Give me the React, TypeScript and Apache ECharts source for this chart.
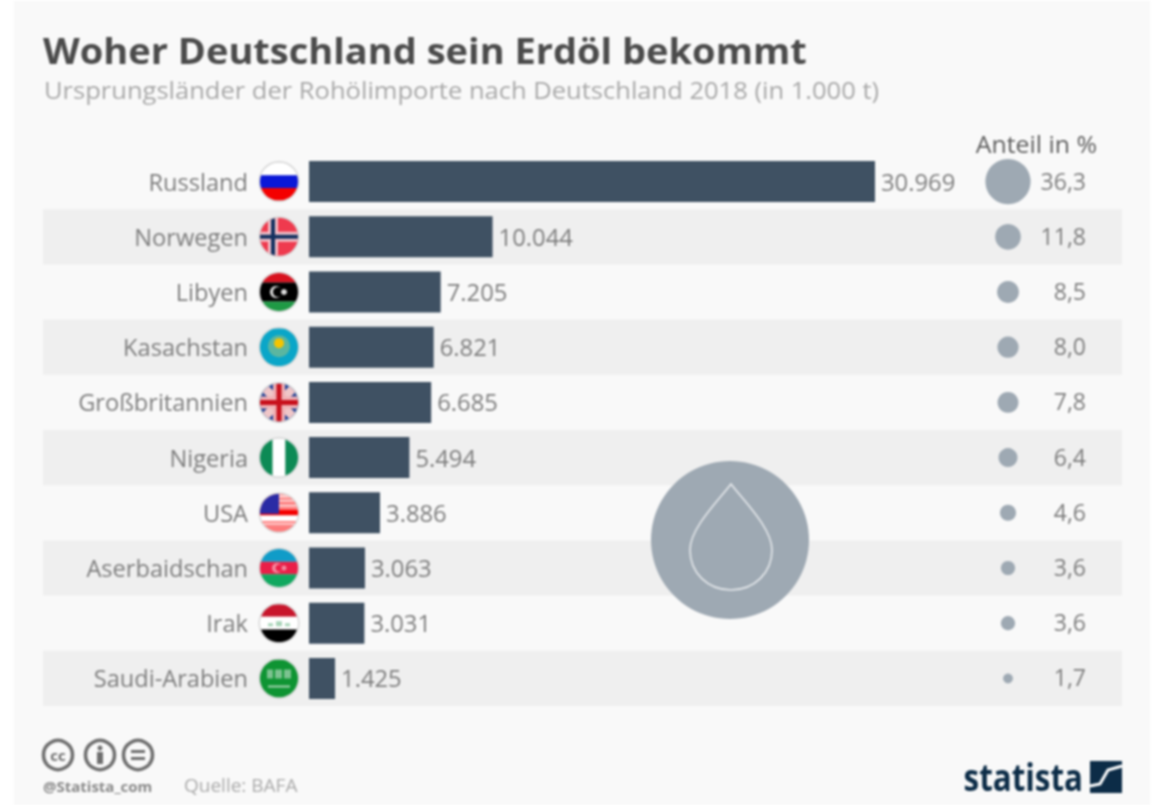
import React, { useEffect, useRef } from "react";
import * as echarts from "echarts";

const countries = ["Russland", "Norwegen", "Libyen", "Kasachstan", "Großbritannien", "Nigeria", "USA", "Aserbaidschan", "Irak", "Saudi-Arabien"];
const imports = [30969, 10044, 7205, 6821, 6685, 5494, 3886, 3063, 3031, 1425];
const importLabels = ["30.969", "10.044", "7.205", "6.821", "6.685", "5.494", "3.886", "3.063", "3.031", "1.425"];
const shares = [36.3, 11.8, 8.5, 8.0, 7.8, 6.4, 4.6, 3.6, 3.6, 1.7];
const shareLabels = ["36,3", "11,8", "8,5", "8,0", "7,8", "6,4", "4,6", "3,6", "3,6", "1,7"];

const FONT = "'Open Sans', 'Noto Sans', sans-serif";
const R = 19;

const rect = (x: number, y: number, w: number, h: number, fill: string) => ({ type: "rect", shape: { x, y, width: w, height: h }, style: { fill } });
const hBands = (cols: string[]) => cols.map((c, i) => rect(-R, -R + (i * 2 * R) / cols.length, 2 * R, (2 * R) / cols.length, c));
const vBands = (cols: string[]) => cols.map((c, i) => rect(-R + (i * 2 * R) / cols.length, -R, (2 * R) / cols.length, 2 * R, c));
const circle = (cx: number, cy: number, r: number, fill: string) => ({ type: "circle", shape: { cx, cy, r }, style: { fill } });
const poly = (points: number[][], fill: string) => ({ type: "polygon", shape: { points }, style: { fill } });

const flagParts: Record<string, any[]> = {
  Russland: hBands(["#ffffff", "#0a18d8", "#f40000"]),
  Norwegen: [
    rect(-R, -R, 2 * R, 2 * R, "#ef3a4e"),
    rect(-R, -5, 2 * R, 10, "#f2c0c8"),
    rect(-11, -R, 10, 2 * R, "#f2c0c8"),
    rect(-R, -2, 2 * R, 4, "#12305f"),
    rect(-8, -R, 4, 2 * R, "#12305f"),
  ],
  Libyen: [
    ...hBands(["#d8121f", "#000000", "#000000", "#1f9a45"]),
    circle(-3, 0, 6, "#dddddd"),
    circle(-1, 0, 5, "#000000"),
    circle(5, 0, 3, "#dddddd"),
  ],
  Kasachstan: [
    rect(-R, -R, 2 * R, 2 * R, "#0aa6c8"),
    circle(0, -1, 11, "#5bb6a0"),
    circle(0, -4, 5, "#f5c400"),
  ],
  "Großbritannien": [
    rect(-R, -R, 2 * R, 2 * R, "#1c3f94"),
    poly([[-R, -R + 6], [-R + 6, -R], [R, R - 6], [R - 6, R]], "#efc6c8"),
    poly([[R, -R + 6], [R - 6, -R], [-R, R - 6], [-R + 6, R]], "#efc6c8"),
    rect(-R, -6, 2 * R, 12, "#efb0b4"),
    rect(-6, -R, 12, 2 * R, "#efb0b4"),
    rect(-R, -2.5, 2 * R, 5, "#c8101c"),
    rect(-2.5, -R, 5, 2 * R, "#c8101c"),
  ],
  Nigeria: vBands(["#0d8a55", "#ffffff", "#0d8a55"]),
  USA: [
    ...Array.from({ length: 7 }, (_, i) => rect(-R, -R + (i * 2 * R) / 7, 2 * R, (2 * R) / 7, i === 4 ? "#ffffff" : i === 3 ? "#f40000" : "#ff7a7a")),
    rect(-R, -R + 1, 2 * R, 3, "#ffd0d0"),
    rect(-R, -R + 6, 2 * R, 2, "#ffd0d0"),
    rect(-R, -R + 11, 2 * R, 2, "#ffd0d0"),
    rect(-R, 10, 2 * R, 2, "#ffd0d0"),
    rect(-R, -R, 19, 20, "#2a2ba5"),
  ],
  Aserbaidschan: [
    ...hBands(["#109cc8", "#ea1f48", "#10a85f"]),
    circle(-2, 0, 5, "#f38aa0"),
    circle(0, 0, 3.5, "#ea1f48"),
    circle(5, 0, 2.5, "#f38aa0"),
  ],
  Irak: [
    ...hBands(["#c8162c", "#ffffff", "#000000"]),
    rect(-11, 0, 5, 3, "#a8d4b8"),
    rect(-3, -2, 6, 5, "#a8d4b8"),
    rect(6, 0, 5, 3, "#a8d4b8"),
  ],
  "Saudi-Arabien": [
    rect(-R, -R, 2 * R, 2 * R, "#0f9433"),
    rect(-12, -9, 6, 9, "#7cc290"),
    rect(-4, -9, 7, 9, "#7cc290"),
    rect(5, -9, 7, 9, "#7cc290"),
    rect(-11, 7, 22, 2, "#a3d4b0"),
  ],
};

echarts.graphic.registerShape(
  "oilDrop",
  echarts.graphic.extendPath("M41 0 C53 16 82 44 82 66 C82 89 64 106 41 106 C18 106 0 89 0 66 C0 44 29 16 41 0 Z", {}) as any
);

export default function App() {
  const ref = useRef<HTMLDivElement>(null);
  useEffect(() => {
    const chart = echarts.init(ref.current!, null, { renderer: "svg" });
    const textColor = "#7d7d7d";
    const icon = "#6e6e6e";
    chart.setOption({
      animation: false,
      backgroundColor: "#ffffff",
      graphic: [
        { type: "rect", z: -10, shape: { x: 14, y: 1, width: 1136, height: 804 }, style: { fill: "#f9f9f9" } },
        { type: "text", x: 43, y: 50, scaleX: 1.062, style: { text: "Woher Deutschland sein Erdöl bekommt", fill: "#4b4b4b", font: `bold 35.8px ${FONT}`, textVerticalAlign: "middle" } },
        { type: "text", x: 44, y: 90, scaleX: 1.064, style: { text: "Ursprungsländer der Rohölimporte nach Deutschland 2018 (in 1.000 t)", fill: "#a8a8a8", font: `24px ${FONT}`, textVerticalAlign: "middle" } },
        { type: "text", x: 1097, y: 144, scaleX: 1.08, style: { text: "Anteil in %", fill: "#5c5c5c", font: `23px ${FONT}`, textAlign: "right", textVerticalAlign: "middle" } },
        { type: "circle", z: 20, shape: { cx: 730, cy: 540, r: 79 }, style: { fill: "#9ea9b3" } },
        { type: "oilDrop", z: 21, x: 690, y: 484, style: { fill: "none", stroke: "#e6e9ec", lineWidth: 1.6 } },
        { type: "circle", shape: { cx: 58, cy: 755, r: 14.5 }, style: { fill: "none", stroke: icon, lineWidth: 3.5 } },
        { type: "text", x: 58, y: 755, style: { text: "cc", fill: icon, font: `bold 15px ${FONT}`, textAlign: "center", textVerticalAlign: "middle" } },
        { type: "circle", shape: { cx: 100, cy: 755, r: 14.5 }, style: { fill: "none", stroke: icon, lineWidth: 3.5 } },
        { type: "circle", shape: { cx: 100, cy: 748, r: 2.5 }, style: { fill: icon } },
        { type: "rect", shape: { x: 97, y: 752, width: 6, height: 12 }, style: { fill: icon } },
        { type: "circle", shape: { cx: 138, cy: 755, r: 14.5 }, style: { fill: "none", stroke: icon, lineWidth: 3.5 } },
        { type: "rect", shape: { x: 131, y: 750, width: 14, height: 3 }, style: { fill: icon } },
        { type: "rect", shape: { x: 131, y: 757, width: 14, height: 3 }, style: { fill: icon } },
        { type: "text", x: 43, y: 786, style: { text: "@Statista_com", fill: "#888888", font: `bold 15px ${FONT}`, textVerticalAlign: "middle" } },
        { type: "text", x: 184, y: 785, style: { text: "Quelle: BAFA", fill: "#aaaaaa", font: `19px ${FONT}`, textVerticalAlign: "middle" } },
        { type: "text", x: 1083, y: 776, scaleX: 0.825, style: { text: "statista", fill: "#0c2c47", font: `bold 38px ${FONT}`, textAlign: "right", textVerticalAlign: "middle" } },
        { type: "rect", shape: { x: 1090, y: 761, width: 32, height: 32 }, style: { fill: "#0c2c47" } },
        { type: "polyline", shape: { points: [[1090, 786], [1100, 784], [1108, 770], [1122, 766]] }, style: { fill: "none", stroke: "#ffffff", lineWidth: 3 } },
      ],
      grid: [
        { left: 43, top: 154, width: 1079, height: 552 },
        { left: 309, top: 154, width: 566, height: 552 },
        { left: 985, top: 154, width: 46, height: 552 },
      ],
      xAxis: [
        { gridIndex: 0, type: "value", min: 0, max: 1, show: false },
        { gridIndex: 1, type: "value", min: 0, max: 30969, show: false },
        { gridIndex: 2, type: "category", data: ["Anteil"], show: false },
      ],
      yAxis: [
        {
          gridIndex: 0, type: "category", data: countries, inverse: true,
          axisLine: { show: false }, axisTick: { show: false }, axisLabel: { show: false }, splitLine: { show: false },
          splitArea: { show: true, areaStyle: { color: ["rgba(0,0,0,0)", "#efefef"] } },
        },
        {
          gridIndex: 1, type: "category", data: countries, inverse: true,
          axisLine: { show: false }, axisTick: { show: false }, splitLine: { show: false },
          axisLabel: { margin: 61, color: textColor, fontFamily: FONT, fontSize: 23.6, interval: 0, padding: [0, 0, 3, 0] },
        },
        { gridIndex: 2, type: "category", data: countries, inverse: true, show: false },
      ],
      series: [
        {
          type: "bar", xAxisIndex: 1, yAxisIndex: 1, data: imports, barWidth: 41, itemStyle: { color: "#3f5163" },
          label: {
            show: true, position: "right", distance: 6, color: textColor, fontFamily: FONT, fontSize: 23.8,
            formatter: (p: any) => importLabels[p.dataIndex],
          },
        },
        {
          type: "custom", xAxisIndex: 1, yAxisIndex: 1, data: countries.map((c, i) => [0, i]), silent: true,
          renderItem: (params: any, api: any) => {
            const [x0, y] = api.coord([0, params.dataIndex]);
            const name = countries[params.dataIndex];
            return {
              type: "group", x: x0 - 30, y,
              children: [
                { type: "circle", shape: { cx: 0, cy: 0, r: R + 1.5 }, style: { fill: "#d8d8d8" } },
                {
                  type: "group",
                  clipPath: { type: "circle", shape: { cx: 0, cy: 0, r: R } },
                  children: flagParts[name],
                },
              ],
            };
          },
        },
        {
          type: "scatter", xAxisIndex: 2, yAxisIndex: 2,
          data: shares.map((s, i) => ["Anteil", i, s]),
          symbolSize: (v: any) => 7.5 * Math.sqrt(v[2]),
          itemStyle: { color: "#9ea9b3", opacity: 1 },
          label: {
            show: true, position: "inside", color: textColor, fontFamily: FONT, fontSize: 23,
            align: "right", offset: [78, -1],
            formatter: (p: any) => shareLabels[p.dataIndex],
          },
        },
      ],
    });
    return () => chart.dispose();
  }, []);
  return (
    <div
      ref={ref}
      style={{ position: "absolute", left: 0, top: 0, width: 1153, height: 805, filter: "blur(1.1px)" }}
    />
  );
}
